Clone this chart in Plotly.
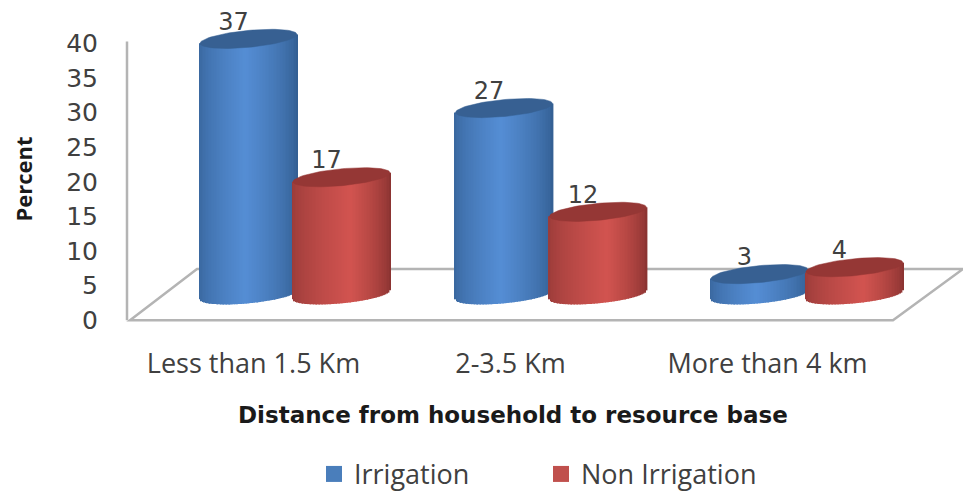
import numpy as np
import plotly.graph_objects as go

# Chart data
categories = ["Less than 1.5 Km", "2-3.5 Km", "More than 4 km"]
irrigation = [37, 27, 3]
non_irrigation = [17, 12, 4]
y_ticks = [0, 5, 10, 15, 20, 25, 30, 35, 40]

# Fake-3D geometry, in axis units
PX_X = 257.0
PX_Y = 6.94
FLOOR_LIFT = 3.67
HALF_W = 48.5 / PX_X
CAP_B = 8.5 / PX_Y
CAP_TILT = 4.5 / PX_Y
SLICES = 64

# Plot area inside the 963x491 page
LEFT, TOP, BOTTOM = 120, 1.5, 149.7
PLOT_W = 963 - LEFT
PLOT_H = 491 - TOP - BOTTOM


def px(v):
    return (v - 253.5) / PX_X


def paper_x(v):
    return (v - LEFT) / PLOT_W


def paper_y(v):
    return (491 - BOTTOM - v) / PLOT_H


def mix(a, b, f):
    return tuple(a[i] + (b[i] - a[i]) * f for i in range(3))


def body_colors(edge_l, peak, edge_r, peak_at, n):
    out = []
    for u in np.linspace(-1, 1, n):
        if u < peak_at:
            f = ((u + 1) / (peak_at + 1)) ** 0.7
            c = mix(edge_l, peak, f)
        else:
            f = ((1 - u) / (1 - peak_at)) ** 0.7
            c = mix(edge_r, peak, f)
        out.append("rgb(%d,%d,%d)" % c)
    return out


fig = go.Figure()

# name, values, offset from the tick, pitch between groups, body shading, cap colour, swatch colour
series = [
    ("Irrigation", irrigation, -5 / PX_X, 255.5 / PX_X,
     ((58, 104, 160), (85, 142, 213), (52, 96, 148), -0.05), "#376092", "#4a7ebb"),
    ("Non Irrigation", non_irrigation, 88 / PX_X, 256.5 / PX_X,
     ((155, 60, 58), (210, 84, 80), (140, 52, 50), 0.2), "#953735", "#c0504d"),
]

# Value labels sit behind the cylinder caps, so they are added first
for name, values, offset, pitch, _, _, _ in series:
    fig.add_trace(go.Scatter(
        x=[i * pitch + offset - 15 / PX_X for i in range(len(values))],
        y=[v + FLOOR_LIFT + 2.2 for v in values],
        text=[str(v) for v in values],
        mode="text",
        textposition="middle center",
        textfont=dict(family="DejaVu Sans", size=24, color="#404040"),
        cliponaxis=False,
        showlegend=False,
        hoverinfo="skip",
    ))

# Cylinders: a shaded row of thin bars for the body, a filled ellipse for the cap
for name, values, offset, pitch, shade, cap_color, swatch in series:
    us = np.linspace(-1, 1, SLICES)
    colors = body_colors(*shade, SLICES)
    for i, v in enumerate(values):
        cx = i * pitch + offset
        low = FLOOR_LIFT - CAP_B * np.sqrt(1 - us ** 2) + CAP_TILT * us
        top = FLOOR_LIFT + v + CAP_TILT * us
        fig.add_trace(go.Bar(
            x=cx + us * HALF_W,
            y=top - low,
            base=low,
            width=2.4 * HALF_W / SLICES,
            marker=dict(color=colors, line=dict(width=0)),
            cliponaxis=False,
            showlegend=False,
            hoverinfo="skip",
        ))
    for i, v in enumerate(values):
        cx = i * pitch + offset
        t = np.linspace(0, 2 * np.pi, 90)
        fig.add_trace(go.Scatter(
            x=cx + HALF_W * np.cos(t),
            y=FLOOR_LIFT + v + CAP_B * np.sin(t) + CAP_TILT * np.cos(t),
            mode="lines",
            fill="toself",
            fillcolor=cap_color,
            line=dict(color=cap_color, width=0.5),
            cliponaxis=False,
            showlegend=False,
            hoverinfo="skip",
        ))

# Legend entries
for name, _, _, _, _, _, swatch in series:
    fig.add_trace(go.Scatter(
        x=[None], y=[None], mode="markers", name=name,
        marker=dict(symbol="square", size=16, color=swatch),
    ))

# Chart floor outline and the vertical axis line
line_color = "#b4b4b4"
corners = [(px(130), 0), (px(893), 0), (px(963), 7.4), (px(197), 7.4)]
path = "M " + " L ".join("%.4f,%.4f" % c for c in corners) + " Z"
shapes = [
    dict(type="path", path=path, xref="x", yref="y", layer="below",
         line=dict(color=line_color, width=2.5)),
    dict(type="line", x0=px(127), x1=px(127), y0=0, y1=40.3, xref="x", yref="y",
         layer="below", line=dict(color=line_color, width=2.5)),
]

fig.update_layout(
    width=963,
    height=491,
    margin=dict(l=LEFT, r=0, t=TOP, b=BOTTOM, autoexpand=False),
    paper_bgcolor="white",
    plot_bgcolor="white",
    barmode="overlay",
    shapes=shapes,
    xaxis=dict(
        range=[px(LEFT), px(963)],
        tickmode="array",
        tickvals=list(range(len(categories))),
        ticktext=categories,
        tickfont=dict(family="Open Sans", size=27, color="#404040"),
        showgrid=False,
        zeroline=False,
        showline=False,
        ticks="",
        ticklabelstandoff=4,
    ),
    yaxis=dict(
        range=[-3, 46],
        tickmode="array",
        tickvals=y_ticks,
        tickfont=dict(family="DejaVu Sans", size=25, color="#404040"),
        showgrid=False,
        zeroline=False,
        showline=False,
        ticks="",
        ticklabelstandoff=21,
    ),
    legend=dict(
        orientation="h",
        x=paper_x(314), y=paper_y(475),
        xanchor="left",
        yanchor="middle",
        font=dict(family="Open Sans", size=27, color="#404040"),
        itemsizing="trace",
        entrywidth=182,
        entrywidthmode="pixels",
    ),
)

# Axis titles are placed on the paper so they can sit off the plot centre
fig.add_annotation(text="<b>Percent</b>", x=paper_x(23), y=paper_y(179.5),
                   xref="paper", yref="paper", textangle=-90, showarrow=False,
                   xanchor="center", yanchor="middle",
                   font=dict(family="Open Sans", size=22, color="#1a1a1a"))
fig.add_annotation(text="<b>Distance from household to resource base</b>",
                   x=paper_x(512.5), y=paper_y(415),
                   xref="paper", yref="paper", showarrow=False,
                   xanchor="center", yanchor="middle",
                   font=dict(family="DejaVu Sans", size=23, color="#1a1a1a"))

fig.write_html("out.html")
